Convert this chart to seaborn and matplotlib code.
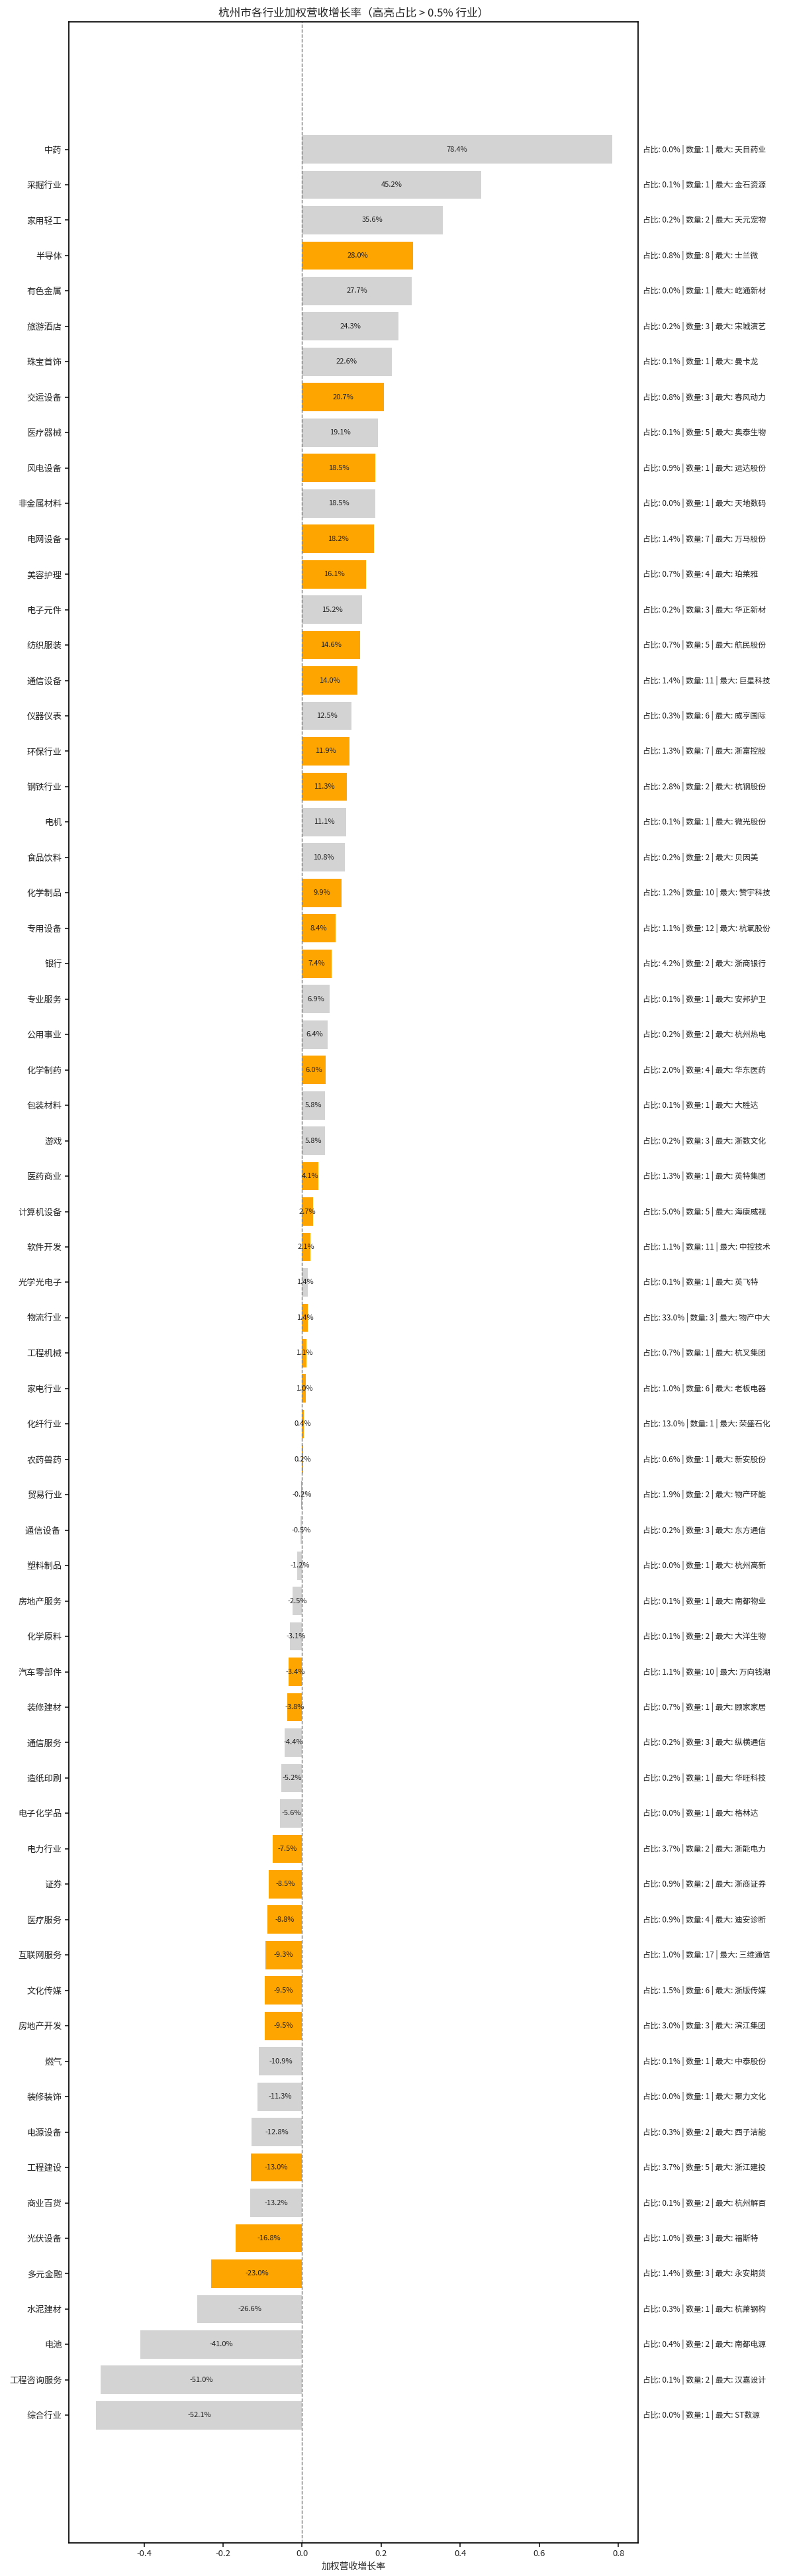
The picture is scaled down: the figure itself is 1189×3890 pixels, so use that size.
import matplotlib
matplotlib.use("Agg")
import matplotlib.pyplot as plt
import seaborn as sns
import pandas as pd

categories = ["中药","采掘行业","家用轻工","半导体","有色金属","旅游酒店","珠宝首饰","交运设备","医疗器械","风电设备",
"非金属材料","电网设备","美容护理","电子元件","纺织服装","通信设备","仪器仪表","环保行业","钢铁行业","电机",
"食品饮料","化学制品","专用设备","银行","专业服务","公用事业","化学制药","包装材料","游戏","医药商业",
"计算机设备","软件开发","光学光电子","物流行业","工程机械","家电行业","化纤行业","农药兽药","贸易行业","通信设备 ",
"塑料制品","房地产服务","化学原料","汽车零部件","装修建材","通信服务","造纸印刷","电子化学品","电力行业","证券",
"医疗服务","互联网服务","文化传媒","房地产开发","燃气","装修装饰","电源设备","工程建设","商业百货","光伏设备",
"多元金融","水泥建材","电池","工程咨询服务","综合行业"]
growth = [0.784,0.452,0.356,0.280,0.277,0.243,0.226,0.207,0.191,0.185,
0.185,0.182,0.161,0.152,0.146,0.140,0.125,0.119,0.113,0.111,
0.108,0.099,0.084,0.074,0.069,0.064,0.060,0.058,0.058,0.041,
0.027,0.021,0.014,0.014,0.011,0.010,0.004,0.002,-0.002,-0.005,
-0.012,-0.025,-0.031,-0.034,-0.038,-0.044,-0.052,-0.056,-0.075,-0.085,
-0.088,-0.093,-0.095,-0.095,-0.109,-0.113,-0.128,-0.130,-0.132,-0.168,
-0.230,-0.266,-0.410,-0.510,-0.521]
share = [0.0,0.1,0.2,0.8,0.0,0.2,0.1,0.8,0.1,0.9,
0.0,1.4,0.7,0.2,0.7,1.4,0.3,1.3,2.8,0.1,
0.2,1.2,1.1,4.2,0.1,0.2,2.0,0.1,0.2,1.3,
5.0,1.1,0.1,33.0,0.7,1.0,13.0,0.6,1.9,0.2,
0.0,0.1,0.1,1.1,0.7,0.2,0.2,0.0,3.7,0.9,
0.9,1.0,1.5,3.0,0.1,0.0,0.3,3.7,0.1,1.0,
1.4,0.3,0.4,0.1,0.0]
count = [1,1,2,8,1,3,1,3,5,1,
1,7,4,3,5,11,6,7,2,1,
2,10,12,2,1,2,4,1,3,1,
5,11,1,3,1,6,1,1,2,3,
1,1,2,10,1,3,1,1,2,2,
4,17,6,3,1,1,2,5,2,3,
3,1,2,2,1]
leader = ["天目药业","金石资源","天元宠物","士兰微","屹通新材","宋城演艺","曼卡龙","春风动力","奥泰生物","运达股份",
"天地数码","万马股份","珀莱雅","华正新材","航民股份","巨星科技","威亨国际","浙富控股","杭钢股份","微光股份",
"贝因美","赞宇科技","杭氧股份","浙商银行","安邦护卫","杭州热电","华东医药","大胜达","浙数文化","英特集团",
"海康威视","中控技术","英飞特","物产中大","杭叉集团","老板电器","荣盛石化","新安股份","物产环能","东方通信",
"杭州高新","南都物业","大洋生物","万向钱潮","顾家家居","纵横通信","华旺科技","格林达","浙能电力","浙商证券",
"迪安诊断","三维通信","浙版传媒","滨江集团","中泰股份","聚力文化","西子洁能","浙江建投","杭州解百","福斯特",
"永安期货","杭萧钢构","南都电源","汉嘉设计","ST数源"]

sns.set_theme(style="white")
plt.rcParams['font.family'] = ['Noto Sans CJK SC', 'DejaVu Sans']
plt.rcParams['axes.unicode_minus'] = False

df = pd.DataFrame({"cat": categories, "g": growth, "share": share})
df["hl"] = ["高" if s > 0.5 else "低" for s in share]

fig = plt.figure(figsize=(11.89, 38.90), dpi=100)
ax = fig.add_axes([0.0875, 0.0129, 0.7235, 0.9786])
sns.barplot(data=df, x="g", y="cat", hue="hl", palette={"高": "orange", "低": "lightgray"},
            dodge=False, legend=False, ax=ax, width=0.8, orient="h", saturation=1, linewidth=0)
ax.axvline(0, color="gray", linestyle="--", linewidth=1)
n = len(categories)
ax.set_ylim(n - 0.5 + 3.1, -0.5 - 3.1)
ax.set_xlim(-0.59, 0.85)
for i, (g, s, c, l) in enumerate(zip(growth, share, count, leader)):
    ax.text(g / 2, i, f"{g*100:.1f}%", ha="center", va="center", fontsize=8, color="#222222")
    ax.text(1.008, i, f"占比: {s:.1f}% | 数量: {c} | 最大: {l}", transform=ax.get_yaxis_transform(),
            ha="left", va="center", fontsize=8.5, color="#222222")
ax.set_ylabel("")
ax.set_xlabel("加权营收增长率", fontsize=10)
ax.set_title("杭州市各行业加权营收增长率（高亮占比 > 0.5% 行业）", fontsize=12, pad=6)
ax.tick_params(axis="y", labelsize=9.5, left=True, length=4)
ax.tick_params(axis="x", labelsize=9.5, bottom=True, length=4)
for sp in ax.spines.values():
    sp.set_color("black")
fig.savefig("out.png", dpi=100)
